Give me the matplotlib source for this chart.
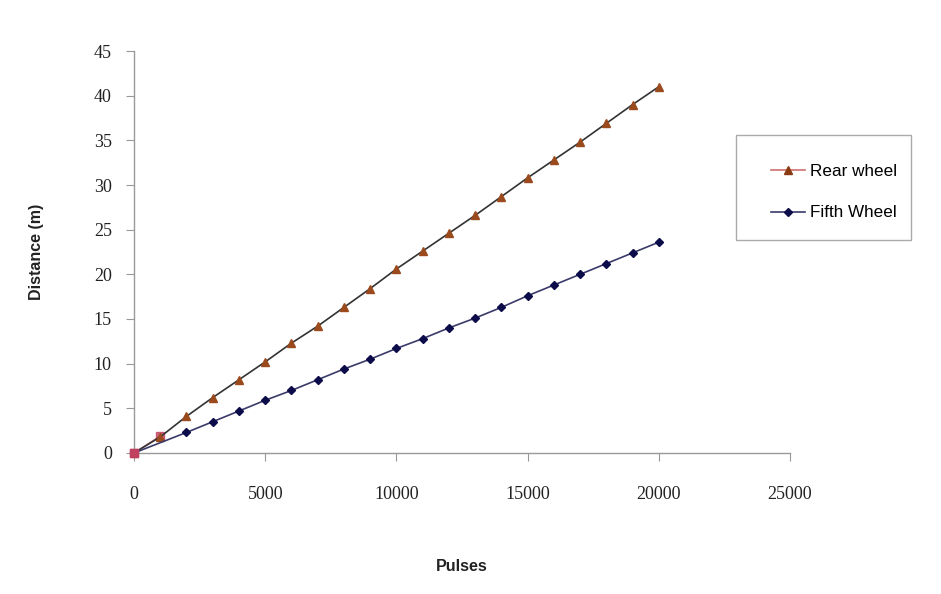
import matplotlib.pyplot as plt
from matplotlib.lines import Line2D
from matplotlib.patches import Rectangle

pulses = [0, 1000, 2000, 3000, 4000, 5000, 6000, 7000, 8000, 9000, 10000,
          11000, 12000, 13000, 14000, 15000, 16000, 17000, 18000, 19000, 20000]
rear_wheel = [0, 1.8, 4.1, 6.2, 8.2, 10.2, 12.3, 14.2, 16.3, 18.4, 20.6,
              22.6, 24.6, 26.6, 28.7, 30.8, 32.8, 34.8, 36.9, 39.0, 41.0]
fifth_pulses = [0, 2000, 3000, 4000, 5000, 6000, 7000, 8000, 9000, 10000,
                11000, 12000, 13000, 14000, 15000, 16000, 17000, 18000, 19000, 20000]
fifth_wheel = [0, 2.3, 3.5, 4.7, 5.9, 7.0, 8.2, 9.4, 10.5, 11.7,
               12.8, 14.0, 15.1, 16.3, 17.6, 18.8, 20.0, 21.2, 22.4, 23.6]
# third series, only its first two points show in the original
extra_pulses = [0, 1000]
extra_values = [0, 1.9]

W, H = 941, 594
fig = plt.figure(figsize=(W / 100, H / 100), dpi=100)
ax = fig.add_axes([0.1424, 0.2374, 0.6971, 0.6767])

ax.plot(extra_pulses, extra_values, color='#c04060', marker='s', markersize=6,
        linewidth=1, alpha=0.8, zorder=2, clip_on=False)
ax.plot(pulses, rear_wheel, color='#333333', linewidth=1.2, marker='^',
        markersize=6, markerfacecolor='#9a4a1c', markeredgecolor='#9a4a1c', zorder=3)
ax.plot(fifth_pulses, fifth_wheel, color='#3a3a6a', linewidth=1.2, marker='D',
        markersize=4.5, markerfacecolor='#0c0c4a', markeredgecolor='#0c0c4a', zorder=3)
# origin marker of the third series sits on top
ax.plot(extra_pulses[:1], extra_values[:1], color='#c04060', marker='s',
        markersize=6, linestyle='none', zorder=4, clip_on=False)

ax.set_xlim(0, 25000)
ax.set_ylim(0, 45)
ax.set_xticks(range(0, 25001, 5000))
ax.set_yticks(range(0, 46, 5))

for s in ['top', 'right']:
    ax.spines[s].set_visible(False)
for s in ['left', 'bottom']:
    ax.spines[s].set_color('#999999')
    ax.spines[s].set_linewidth(1)
ax.tick_params(axis='both', direction='out', length=6, color='#999999',
               labelsize=13, labelcolor='#222222')
ax.tick_params(axis='x', pad=18)
ax.tick_params(axis='y', pad=10)
for lab in ax.get_xticklabels() + ax.get_yticklabels():
    lab.set_family('Liberation Serif')

ax.set_xlabel('Pulses', fontsize=11.5, fontweight='bold', family='Liberation Sans',
              labelpad=40, color='#222222')
ax.set_ylabel('Distance (m)', fontsize=11.5, fontweight='bold', family='Liberation Sans',
              labelpad=36, color='#222222')

# legend box
fig.patches.append(Rectangle((736 / W, 1 - 240 / H), 175 / W, 105 / H,
                             transform=fig.transFigure, facecolor='white',
                             edgecolor='#aaaaaa', linewidth=1, zorder=5))

handles = [
    Line2D([], [], color='#d07070', linewidth=1.2, marker='^', markersize=6,
           markerfacecolor='#8a3a10', markeredgecolor='#8a3a10'),
    Line2D([], [], color='#3a3a6a', linewidth=1.2, marker='D', markersize=4.5,
           markerfacecolor='#0c0c4a', markeredgecolor='#0c0c4a'),
]
leg = fig.legend(handles, ['Rear wheel', 'Fifth Wheel'], loc='upper left',
                 bbox_to_anchor=(771 / W, 1 - 164 / H), frameon=False,
                 prop={'family': 'Liberation Sans', 'size': 12.3},
                 handlelength=2.0, labelspacing=1.55, borderpad=0,
                 handletextpad=0.3, borderaxespad=0)
leg.set_zorder(6)

fig.savefig('out.png', dpi=100, facecolor='white')
